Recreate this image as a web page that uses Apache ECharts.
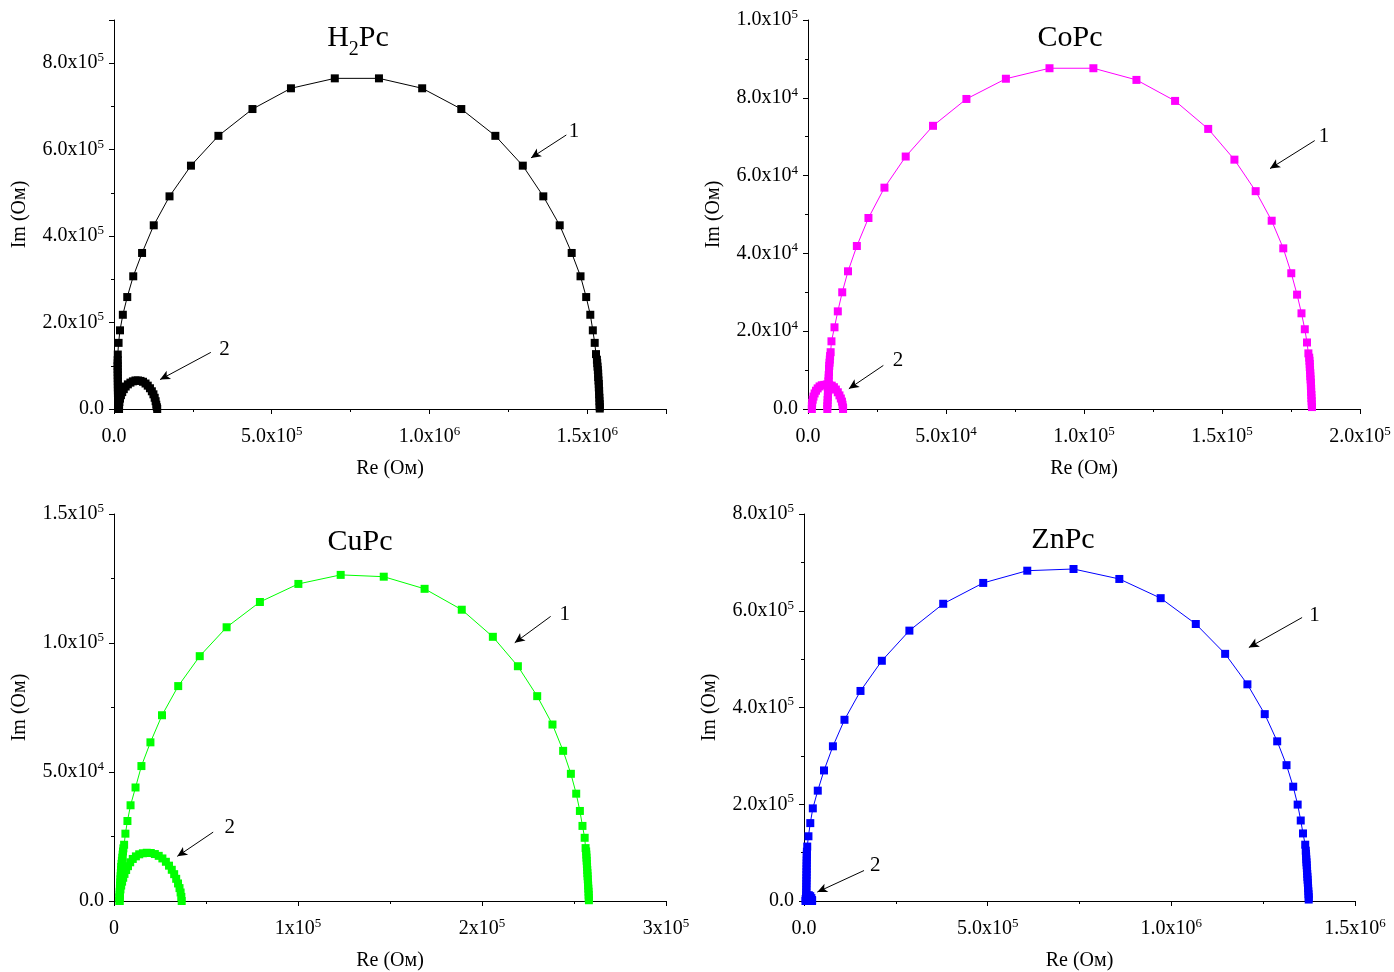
<!DOCTYPE html>
<html>
<head>
<meta charset="utf-8">
<script src="https://cdn.jsdelivr.net/npm/echarts/dist/echarts.min.js"></script>
<style>
html, body { margin: 0; padding: 0; background: #fff; }
#chart { width: 1394px; height: 972px; }
</style>
</head>
<body>
<div id="chart"></div>
<script>
// Nyquist plots (Re vs Im impedance) for four phthalocyanine films.
// Curve 1 and curve 2 of each panel are [Re, Im] pairs in Ohm.

const panelTitles = ['{n|H}{sub|2}{n|Pc}', '{n|CoPc}', '{n|CuPc}', '{n|ZnPc}'];
const panelColors = ['#000000', '#ff00ff', '#00ff00', '#0000ff'];
const reAxisName = 'Re (Ом)';
const imAxisName = 'Im (Ом)';

// tick labels ("^" marks the exponent)
const h2ReTicks = ['0.0', '5.0x10^5', '1.0x10^6', '1.5x10^6'];
const h2ImTicks = ['0.0', '2.0x10^5', '4.0x10^5', '6.0x10^5', '8.0x10^5'];
const coReTicks = ['0.0', '5.0x10^4', '1.0x10^5', '1.5x10^5', '2.0x10^5'];
const coImTicks = ['0.0', '2.0x10^4', '4.0x10^4', '6.0x10^4', '8.0x10^4', '1.0x10^5'];
const cuReTicks = ['0', '1x10^5', '2x10^5', '3x10^5'];
const cuImTicks = ['0.0', '5.0x10^4', '1.0x10^5', '1.5x10^5'];
const znReTicks = ['0.0', '5.0x10^5', '1.0x10^6', '1.5x10^6'];
const znImTicks = ['0.0', '2.0x10^5', '4.0x10^5', '6.0x10^5', '8.0x10^5'];

// ---- H2Pc ----
const h2Curve1 = [
  [1.30e4, 0], [1.30e4, 4e3], [1.29e4, 9e3], [1.28e4, 1.5e4], [1.27e4, 2.2e4], [1.26e4, 2.9e4],
  [1.25e4, 3.6e4], [1.24e4, 4.3e4], [1.23e4, 5.0e4], [1.22e4, 5.7e4], [1.21e4, 6.4e4], [1.20e4, 7.1e4],
  [1.19e4, 7.8e4], [1.18e4, 8.5e4], [1.17e4, 9.2e4], [1.16e4, 9.9e4], [1.16e4, 1.06e5], [1.17e4, 1.13e5],
  [1.20e4, 1.26e5], [1.45e4, 1.53e5], [1.9e4, 1.82e5], [2.8e4, 2.18e5], [4.2e4, 2.59e5], [6.1e4, 3.07e5],
  [8.9e4, 3.61e5], [1.26e5, 4.25e5], [1.76e5, 4.92e5], [2.44e5, 5.63e5], [3.31e5, 6.32e5], [4.39e5, 6.94e5],
  [5.61e5, 7.42e5], [7.00e5, 7.65e5], [8.40e5, 7.65e5], [9.77e5, 7.42e5], [1.101e6, 6.94e5], [1.209e6, 6.32e5],
  [1.296e6, 5.63e5], [1.361e6, 4.92e5], [1.413e6, 4.25e5], [1.451e6, 3.61e5], [1.479e6, 3.07e5], [1.497e6, 2.59e5],
  [1.510e6, 2.18e5], [1.518e6, 1.82e5], [1.524e6, 1.53e5], [1.528e6, 1.27e5],
  [1.531e6, 1.14e5], [1.532e6, 1.06e5], [1.533e6, 9.8e4], [1.534e6, 9.0e4], [1.535e6, 8.2e4], [1.535e6, 7.4e4],
  [1.536e6, 6.6e4], [1.537e6, 5.8e4], [1.537e6, 5.0e4], [1.538e6, 4.2e4], [1.538e6, 3.4e4], [1.539e6, 2.6e4],
  [1.539e6, 1.8e4], [1.540e6, 1.1e4], [1.540e6, 5e3], [1.540e6, 1e3]
];
const h2Curve2 = [
  [1.6e4, 0], [1.6e4, 8e3], [1.7e4, 1.6e4], [1.9e4, 2.4e4], [2.2e4, 3.2e4], [2.6e4, 3.9e4], [3.1e4, 4.6e4],
  [3.7e4, 5.2e4], [4.4e4, 5.7e4], [5.2e4, 6.1e4], [6.0e4, 6.4e4], [6.8e4, 6.6e4], [7.6e4, 6.6e4], [8.4e4, 6.5e4],
  [9.2e4, 6.3e4], [1.00e5, 5.9e4], [1.07e5, 5.4e4], [1.14e5, 4.8e4], [1.20e5, 4.1e4], [1.25e5, 3.4e4],
  [1.29e5, 2.6e4], [1.32e5, 1.8e4], [1.34e5, 1.0e4], [1.36e5, 4e3], [1.37e5, 0]
];
const h2NoteText = [['1', 1.458e6, 6.42e5], ['2', 3.50e5, 1.38e5]];
const h2NoteArrows = [[1.434e6, 6.34e5, 1.322e6, 5.81e5], [3.07e5, 1.31e5, 1.46e5, 6.8e4]];

// ---- CoPc ----
const coCurve1 = [
  [7.0e3, 0], [7.0e3, 0.7e3], [7.1e3, 1.5e3], [7.1e3, 2.3e3], [7.2e3, 3.1e3], [7.2e3, 3.9e3], [7.3e3, 4.7e3],
  [7.3e3, 5.5e3], [7.4e3, 6.3e3], [7.4e3, 7.1e3], [7.5e3, 7.9e3], [7.5e3, 8.7e3], [7.6e3, 9.5e3], [7.6e3, 10.3e3],
  [7.7e3, 11.1e3], [7.8e3, 11.9e3], [7.9e3, 12.7e3], [8.0e3, 13.6e3],
  [8.2e3, 14.6e3], [8.5e3, 17.4e3], [9.6e3, 21.0e3], [10.8e3, 25.1e3], [12.4e3, 30.0e3], [14.5e3, 35.4e3],
  [17.7e3, 41.9e3], [21.9e3, 49.1e3], [27.7e3, 56.9e3], [35.4e3, 64.9e3], [45.3e3, 72.8e3], [57.4e3, 79.7e3],
  [71.7e3, 84.9e3], [87.5e3, 87.6e3], [103.4e3, 87.6e3], [119.0e3, 84.6e3], [133.0e3, 79.2e3], [145.0e3, 72.0e3],
  [154.5e3, 64.1e3], [162.2e3, 56.0e3], [168.0e3, 48.4e3], [172.2e3, 41.3e3], [175.1e3, 34.9e3], [177.2e3, 29.4e3],
  [178.8e3, 24.6e3], [180.0e3, 20.5e3], [180.8e3, 17.1e3], [181.3e3, 14.3e3],
  [181.6e3, 13.2e3], [181.7e3, 12.4e3], [181.8e3, 11.6e3], [181.8e3, 10.8e3], [181.9e3, 10.0e3], [182.0e3, 9.2e3],
  [182.0e3, 8.4e3], [182.1e3, 7.6e3], [182.2e3, 6.8e3], [182.2e3, 6.0e3], [182.3e3, 5.2e3], [182.3e3, 4.4e3],
  [182.4e3, 3.6e3], [182.4e3, 2.8e3], [182.5e3, 2.0e3], [182.5e3, 1.2e3], [182.6e3, 0.5e3]
];
const coCurve2 = [
  [1.4e3, 0], [1.4e3, 0.8e3], [1.5e3, 1.6e3], [1.7e3, 2.4e3], [2.0e3, 3.2e3], [2.4e3, 4.0e3], [2.9e3, 4.7e3],
  [3.5e3, 5.3e3], [4.2e3, 5.8e3], [5.0e3, 6.1e3], [5.9e3, 6.2e3], [6.8e3, 6.3e3], [7.7e3, 6.2e3], [8.6e3, 6.0e3],
  [9.4e3, 5.6e3], [10.1e3, 5.0e3], [10.8e3, 4.3e3], [11.4e3, 3.5e3], [11.9e3, 2.7e3], [12.3e3, 1.9e3],
  [12.5e3, 1.1e3], [12.7e3, 0.4e3], [12.7e3, 0]
];
const coNoteText = [['1', 187.0e3, 70.0e3], ['2', 32.6e3, 12.5e3]];
const coNoteArrows = [[183.6e3, 69.0e3, 167.4e3, 61.8e3], [27.3e3, 11.2e3, 14.8e3, 5.2e3]];

// ---- CuPc ----
const cuCurve1 = [
  [3.0e3, 0], [3.0e3, 1.2e3], [3.1e3, 2.4e3], [3.1e3, 3.6e3], [3.2e3, 4.8e3], [3.3e3, 6.0e3], [3.4e3, 7.2e3],
  [3.5e3, 8.4e3], [3.6e3, 9.6e3], [3.7e3, 10.8e3], [3.8e3, 12.0e3], [3.9e3, 13.2e3], [4.1e3, 14.4e3],
  [4.3e3, 15.6e3], [4.5e3, 16.8e3], [4.7e3, 18.0e3], [4.9e3, 19.2e3], [5.1e3, 20.4e3],
  [5.5e3, 21.8e3], [6.2e3, 26.1e3], [7.3e3, 31.0e3], [9.0e3, 37.1e3], [11.7e3, 44.0e3], [14.9e3, 52.3e3],
  [19.8e3, 61.5e3], [26.1e3, 72.0e3], [34.9e3, 83.3e3], [46.6e3, 94.9e3], [61.2e3, 106.1e3], [79.3e3, 115.9e3],
  [100.2e3, 122.9e3], [123.2e3, 126.4e3], [146.6e3, 125.7e3], [168.8e3, 121.0e3], [189.0e3, 112.9e3],
  [205.9e3, 102.4e3], [219.5e3, 91.0e3], [230.0e3, 79.4e3], [238.3e3, 68.4e3], [244.1e3, 58.2e3],
  [248.3e3, 49.3e3], [251.2e3, 41.6e3], [253.2e3, 34.9e3], [254.6e3, 29.1e3], [255.8e3, 24.5e3], [256.3e3, 20.5e3],
  [256.6e3, 19.2e3], [256.7e3, 18.0e3], [256.8e3, 16.8e3], [256.9e3, 15.6e3], [257.0e3, 14.4e3], [257.1e3, 13.2e3],
  [257.2e3, 12.0e3], [257.3e3, 10.8e3], [257.4e3, 9.6e3], [257.5e3, 8.4e3], [257.6e3, 7.2e3], [257.7e3, 6.0e3],
  [257.8e3, 4.8e3], [257.9e3, 3.6e3], [258.0e3, 2.4e3], [258.0e3, 1.2e3], [258.1e3, 0.3e3]
];
const cuCurve2 = [
  [3.0e3, 0], [3.0e3, 1.5e3], [3.2e3, 3.0e3], [3.5e3, 4.5e3], [3.9e3, 6.0e3], [4.4e3, 7.5e3], [5.0e3, 9.0e3],
  [5.7e3, 10.5e3], [6.6e3, 12.0e3], [7.6e3, 13.5e3], [8.8e3, 15.0e3], [10.2e3, 16.3e3], [11.9e3, 17.3e3],
  [13.7e3, 18.1e3], [15.7e3, 18.5e3], [17.8e3, 18.7e3], [20.0e3, 18.6e3], [22.2e3, 18.2e3], [24.3e3, 17.5e3],
  [26.3e3, 16.5e3], [28.2e3, 15.2e3], [29.9e3, 13.7e3], [31.4e3, 12.1e3], [32.7e3, 10.4e3], [33.8e3, 8.6e3],
  [34.8e3, 6.8e3], [35.6e3, 5.0e3], [36.2e3, 3.3e3], [36.6e3, 1.6e3], [36.8e3, 0]
];
const cuNoteText = [['1', 245.0e3, 111.0e3], ['2', 62.9e3, 28.6e3]];
const cuNoteArrows = [[237.3e3, 110.3e3, 217.8e3, 100.1e3], [53.9e3, 26.7e3, 34.4e3, 17.3e3]];

// ---- ZnPc ----
const znCurve1 = [
  [6.0e3, 0], [6.1e3, 6e3], [6.2e3, 12e3], [6.3e3, 18e3], [6.4e3, 24e3], [6.5e3, 30e3], [6.6e3, 36e3],
  [6.7e3, 42e3], [6.8e3, 48e3], [6.9e3, 54e3], [7.0e3, 60e3], [7.1e3, 66e3], [7.2e3, 72e3], [7.3e3, 78e3],
  [7.4e3, 84e3], [7.5e3, 90e3], [7.7e3, 96e3], [7.9e3, 102e3],
  [8.8e3, 112.5e3], [12.1e3, 133.8e3], [17.1e3, 161e3], [24.0e3, 191.5e3], [37.5e3, 228.1e3], [54.5e3, 269.9e3],
  [78.7e3, 319.8e3], [110.2e3, 374.6e3], [153.8e3, 434.2e3], [211.9e3, 496.6e3], [286.9e3, 558.9e3],
  [379.0e3, 614.4e3], [487.9e3, 657.5e3], [607.8e3, 682.8e3], [733.7e3, 686.3e3], [858.4e3, 665.7e3],
  [971.0e3, 626.0e3], [1066.6e3, 572.6e3], [1146.5e3, 510.9e3], [1207.1e3, 447.9e3], [1254.3e3, 386.3e3],
  [1288.2e3, 330.1e3], [1313.6e3, 280.8e3], [1331.8e3, 236.3e3], [1343.9e3, 199.3e3], [1352.3e3, 166.4e3],
  [1358.4e3, 139.7e3], [1364.5e3, 116.4e3],
  [1366.0e3, 104e3], [1366.5e3, 98e3], [1367.0e3, 92e3], [1367.5e3, 86e3], [1368.0e3, 80e3], [1368.5e3, 74e3],
  [1369.0e3, 68e3], [1369.5e3, 62e3], [1370.0e3, 56e3], [1370.5e3, 50e3], [1371.0e3, 44e3], [1371.5e3, 38e3],
  [1372.0e3, 32e3], [1372.5e3, 26e3], [1373.0e3, 20e3], [1373.5e3, 14e3], [1374.0e3, 8e3], [1374.0e3, 3e3]
];
const znCurve2 = [
  [4e3, 0], [4.5e3, 4e3], [6e3, 8e3], [9e3, 11e3], [13e3, 12e3], [17e3, 10e3], [20e3, 6e3], [22e3, 2e3], [22e3, 0]
];
const znNoteText = [['1', 1.390e6, 5.90e5], ['2', 1.94e5, 7.4e4]];
const znNoteArrows = [[1.356e6, 5.86e5, 1.211e6, 5.24e5], [1.634e5, 6.3e4, 3.63e4, 1.85e4]];

const FONT = '"Liberation Serif", "Times New Roman", serif';

const panels = [
  { grid: { left: 114, top: 20, width: 552, height: 389 }, titleAt: [358, 23],
    re: { max: 1.75e6, major: 5e5, minor: 2.5e5, labels: h2ReTicks },
    im: { max: 9e5, major: 2e5, minor: 1e5, labels: h2ImTicks },
    curves: [h2Curve1, h2Curve2], noteText: h2NoteText, noteArrows: h2NoteArrows },
  { grid: { left: 808, top: 20, width: 552, height: 389 }, titleAt: [1070, 23],
    re: { max: 2e5, major: 5e4, minor: 2.5e4, labels: coReTicks },
    im: { max: 1e5, major: 2e4, minor: 1e4, labels: coImTicks },
    curves: [coCurve1, coCurve2], noteText: coNoteText, noteArrows: coNoteArrows },
  { grid: { left: 114, top: 514, width: 552, height: 389 }, titleAt: [360, 527],
    re: { max: 3e5, major: 1e5, minor: 5e4, labels: cuReTicks },
    im: { max: 1.5e5, major: 5e4, minor: 2.5e4, labels: cuImTicks },
    curves: [cuCurve1, cuCurve2], noteText: cuNoteText, noteArrows: cuNoteArrows },
  { grid: { left: 804, top: 514, width: 551, height: 389 }, titleAt: [1063, 525],
    re: { max: 1.5e6, major: 5e5, minor: 2.5e5, labels: znReTicks },
    im: { max: 8e5, major: 2e5, minor: 1e5, labels: znImTicks },
    curves: [znCurve1, znCurve2], noteText: znNoteText, noteArrows: znNoteArrows }
];

function richTick(s) {
  const p = s.split('^');
  return p.length > 1 ? '{b|' + p[0] + '}{s|' + p[1] + '}' : '{b|' + s + '}';
}

const tickRich = {
  b: { fontSize: 20, fontFamily: FONT, color: '#000', lineHeight: 24 },
  s: { fontSize: 13, fontFamily: FONT, color: '#000', lineHeight: 12, verticalAlign: 'top' }
};

function makeAxes(cfg, gridIndex, isX) {
  const common = { type: 'value', gridIndex: gridIndex, min: 0, max: cfg.max,
    position: isX ? 'bottom' : 'left', splitLine: { show: false } };
  const main = Object.assign({}, common, {
    interval: cfg.minor,
    name: isX ? reAxisName : imAxisName,
    nameLocation: 'middle',
    nameGap: isX ? 50 : 84,
    nameTextStyle: { fontFamily: FONT, fontSize: 20, color: '#000' },
    axisLine: { show: true, lineStyle: { color: '#000', width: 1 } },
    axisTick: { show: true, inside: false, length: 3, lineStyle: { color: '#000', width: 1 } },
    axisLabel: {
      show: true, margin: isX ? 16 : 10, showMinLabel: true, showMaxLabel: true,
      formatter: function (v) {
        const k = Math.round(v / cfg.major);
        if (Math.abs(v - k * cfg.major) > cfg.major * 1e-6) return '';
        const lab = cfg.labels[k];
        return lab === undefined ? '' : richTick(lab);
      },
      rich: tickRich
    }
  });
  const major = Object.assign({}, common, {
    interval: cfg.major,
    axisLine: { show: false },
    axisTick: { show: true, inside: false, length: 5, lineStyle: { color: '#000', width: 1 } },
    axisLabel: { show: false }
  });
  return [main, major];
}

const option = {
  animation: false,
  backgroundColor: '#ffffff',
  title: [], grid: [], xAxis: [], yAxis: [], series: []
};

panels.forEach(function (p, i) {
  option.grid.push(Object.assign({ containLabel: false }, p.grid));
  option.title.push({
    text: panelTitles[i], left: p.titleAt[0], top: p.titleAt[1], textAlign: 'center', padding: 0,
    textStyle: {
      fontFamily: FONT, fontWeight: 'normal', color: '#000',
      rich: {
        n: { fontFamily: FONT, fontSize: 30, color: '#000', lineHeight: 30, verticalAlign: 'top' },
        sub: { fontFamily: FONT, fontSize: 20, color: '#000', lineHeight: 37, verticalAlign: 'bottom' }
      }
    }
  });
  makeAxes(p.re, i, true).forEach(function (a) { option.xAxis.push(a); });
  makeAxes(p.im, i, false).forEach(function (a) { option.yAxis.push(a); });
  const ax = 2 * i;
  p.curves.forEach(function (curve, c) {
    option.series.push({
      type: 'line', xAxisIndex: ax, yAxisIndex: ax, data: curve, clip: false,
      symbol: 'rect', symbolSize: 8, showSymbol: true,
      lineStyle: { color: panelColors[i], width: 1 },
      itemStyle: { color: panelColors[i] },
      z: 2 + c
    });
  });
  option.series.push({
    type: 'scatter', xAxisIndex: ax, yAxisIndex: ax, clip: false,
    symbolSize: 1, itemStyle: { color: 'rgba(0,0,0,0)' },
    data: p.noteText.map(function (t) { return { value: [t[1], t[2]], name: t[0] }; }),
    label: { show: true, position: 'inside', formatter: '{b}', fontFamily: FONT, fontSize: 21,
      color: '#000', opacity: 1, textBorderWidth: 0 },
    markLine: {
      silent: true, symbol: ['none', 'arrow'], symbolSize: [7, 10],
      lineStyle: { color: '#000', width: 1, type: 'solid' },
      label: { show: false },
      data: p.noteArrows.map(function (a) {
        return [{ coord: [a[0], a[1]] }, { coord: [a[2], a[3]] }];
      })
    },
    z: 5
  });
});

const chart = echarts.init(document.getElementById('chart'), null, { renderer: 'canvas' });
chart.setOption(option);
</script>
</body>
</html>
